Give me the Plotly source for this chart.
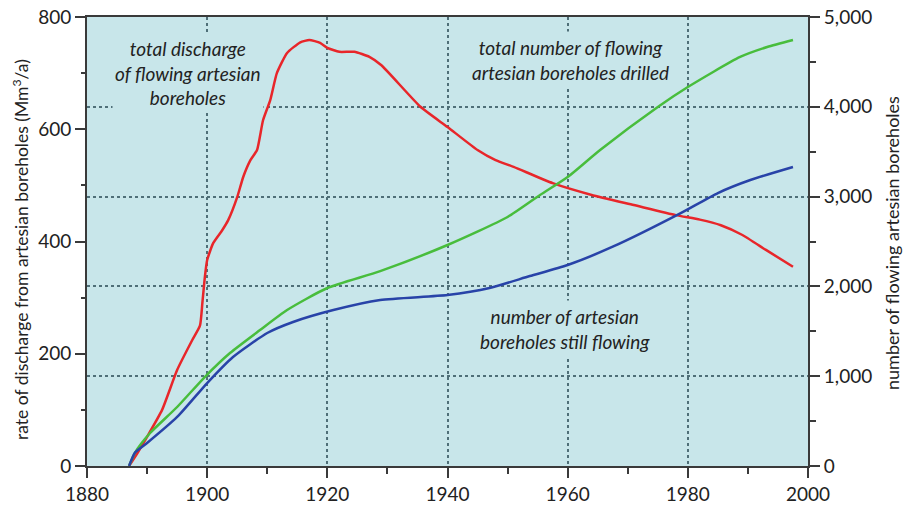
import plotly.graph_objects as go

# Discharge (Mm3/a), left axis
years_r = [1887, 1888.5, 1890, 1892.5, 1895, 1897.5, 1898.8, 1899.2, 1899.6, 1900, 1901, 1902.5, 1903.5,
           1905, 1906, 1907.2, 1908.3, 1909.3, 1910.5, 1911.6, 1913.3, 1915.5, 1917, 1918.8, 1920, 1922,
           1924.5, 1927, 1929, 1935.5, 1940, 1945, 1948, 1951, 1957.5, 1964, 1971, 1978, 1982, 1985.5,
           1989, 1993, 1997.5]
discharge = [0, 25, 52, 100, 171, 224, 250, 290, 335, 367, 397, 420, 438,
             479, 515, 545, 563, 616, 652, 700, 736, 755, 759, 754, 745, 738,
             738, 729, 714, 640, 604, 563, 545, 533, 504, 483, 465, 447, 439, 429,
             412, 385, 355]

# Total number of flowing artesian boreholes drilled, right axis
years_g = [1887, 1888, 1890.5, 1895, 1899.6, 1903.8, 1908.8, 1913.3, 1920, 1928.8, 1940, 1950,
           1955.4, 1960, 1965.4, 1975, 1980, 1988.7, 1993.2, 1997.5]
drilled = [0, 150, 367, 657, 991, 1258, 1514, 1737, 1982, 2170, 2461, 2773,
           3018, 3218, 3519, 3998, 4220, 4555, 4666, 4744]

# Number of artesian boreholes still flowing, right axis
years_b = [1887, 1888, 1890, 1895, 1900, 1904.3, 1910, 1914.3, 1921, 1928.8, 1940, 1947, 1953.7,
           1960, 1967.5, 1978.5, 1985, 1990.4, 1997.5]
flowing = [0, 150, 256, 546, 924, 1214, 1481, 1604, 1737, 1849, 1904, 1982, 2115,
           2238, 2442, 2805, 3040, 3185, 3330]

x_ticks = [1880, 1900, 1920, 1940, 1960, 1980, 2000]
left_ticks = [0, 200, 400, 600, 800]
right_ticks = [0, 1000, 2000, 3000, 4000, 5000]
right_labels = ["0", "1,000", "2,000", "3,000", "4,000", "5,000"]

BG = "#c8e6ea"
FONT = "Lato"
TXT = "#222222"
AX = "#3a3a3a"
GRID = "#4f6f78"

fig = go.Figure()
fig.add_trace(go.Scatter(x=years_g, y=drilled, mode="lines", yaxis="y2",
                         line=dict(color="#48bd3c", width=2.5, shape="spline", smoothing=0.6),
                         showlegend=False))
fig.add_trace(go.Scatter(x=years_b, y=flowing, mode="lines", yaxis="y2",
                         line=dict(color="#2843a8", width=2.5, shape="spline", smoothing=0.6),
                         showlegend=False))
fig.add_trace(go.Scatter(x=years_r, y=discharge, mode="lines", yaxis="y",
                         line=dict(color="#e8262a", width=2.5, shape="spline", smoothing=0.5),
                         showlegend=False))

fig.update_layout(
    width=906, height=506,
    margin=dict(l=87, r=98, t=17, b=40),
    paper_bgcolor="white",
    plot_bgcolor=BG,
    font=dict(family=FONT, color=TXT, size=19),
    xaxis=dict(range=[1880, 2000], tickvals=x_ticks, showgrid=True, griddash="dot",
               gridcolor=GRID, gridwidth=1.5, zeroline=False, automargin=False,
               showline=True, linecolor=AX, linewidth=2, mirror=True,
               ticks="outside", ticklen=10, tickwidth=2, tickcolor=AX,
               minor=dict(dtick=10, ticks="outside", ticklen=6, tickwidth=2, tickcolor=AX, showgrid=False),
               tickfont=dict(size=19)),
    yaxis=dict(range=[0, 800], tickvals=left_ticks, showgrid=False, zeroline=False, automargin=False,
               showline=True, linecolor=AX, linewidth=2,
               ticks="outside", ticklen=10, tickwidth=2, tickcolor=AX,
               minor=dict(dtick=100, ticks="outside", ticklen=4, tickwidth=2, tickcolor=AX, showgrid=False),
               tickfont=dict(size=19)),
    yaxis2=dict(range=[0, 5000], tickvals=right_ticks, ticktext=right_labels,
                overlaying="y", side="right", showgrid=True, griddash="dot",
                gridcolor=GRID, gridwidth=1.5, zeroline=False, automargin=False,
                showline=True, linecolor=AX, linewidth=2,
                ticks="outside", ticklen=10, tickwidth=2, tickcolor=AX,
                minor=dict(dtick=500, ticks="outside", ticklen=6, tickwidth=2, tickcolor=AX, showgrid=False),
                tickfont=dict(size=19)),
)

# Axis titles
fig.add_annotation(x=-0.0929, y=0.481, xref="paper", yref="paper", textangle=-90,
                   text="rate of discharge from artesian boreholes (Mm<sup>3</sup>/a)",
                   showarrow=False, font=dict(family=FONT, size=17.5, color=TXT),
                   xanchor="center", yanchor="middle")
fig.add_annotation(x=1.1165, y=0.4967, xref="paper", yref="paper", textangle=-90,
                   text="number of flowing artesian boreholes",
                   showarrow=False, font=dict(family=FONT, size=18, color=TXT),
                   xanchor="center", yanchor="middle")

ann_font = dict(family=FONT, size=19, color=TXT, style="italic")
fig.add_annotation(x=1896.8, y=700, xref="x", yref="y",
                   text="total discharge<br>of flowing artesian<br>boreholes",
                   showarrow=False, font=ann_font, bgcolor=BG, borderpad=2, align="center")
fig.add_annotation(x=1960.4, y=724, xref="x", yref="y",
                   text="total number of flowing<br>artesian boreholes drilled",
                   showarrow=False, font=ann_font, bgcolor=BG, borderpad=4, align="center")
fig.add_annotation(x=1959.6, y=244, xref="x", yref="y",
                   text="number of artesian<br>boreholes still flowing",
                   showarrow=False, font=ann_font, bgcolor=BG, borderpad=4, align="center")

fig.write_html("out.html", config={"displayModeBar": False},
               post_script="document.body.style.margin='0';")
